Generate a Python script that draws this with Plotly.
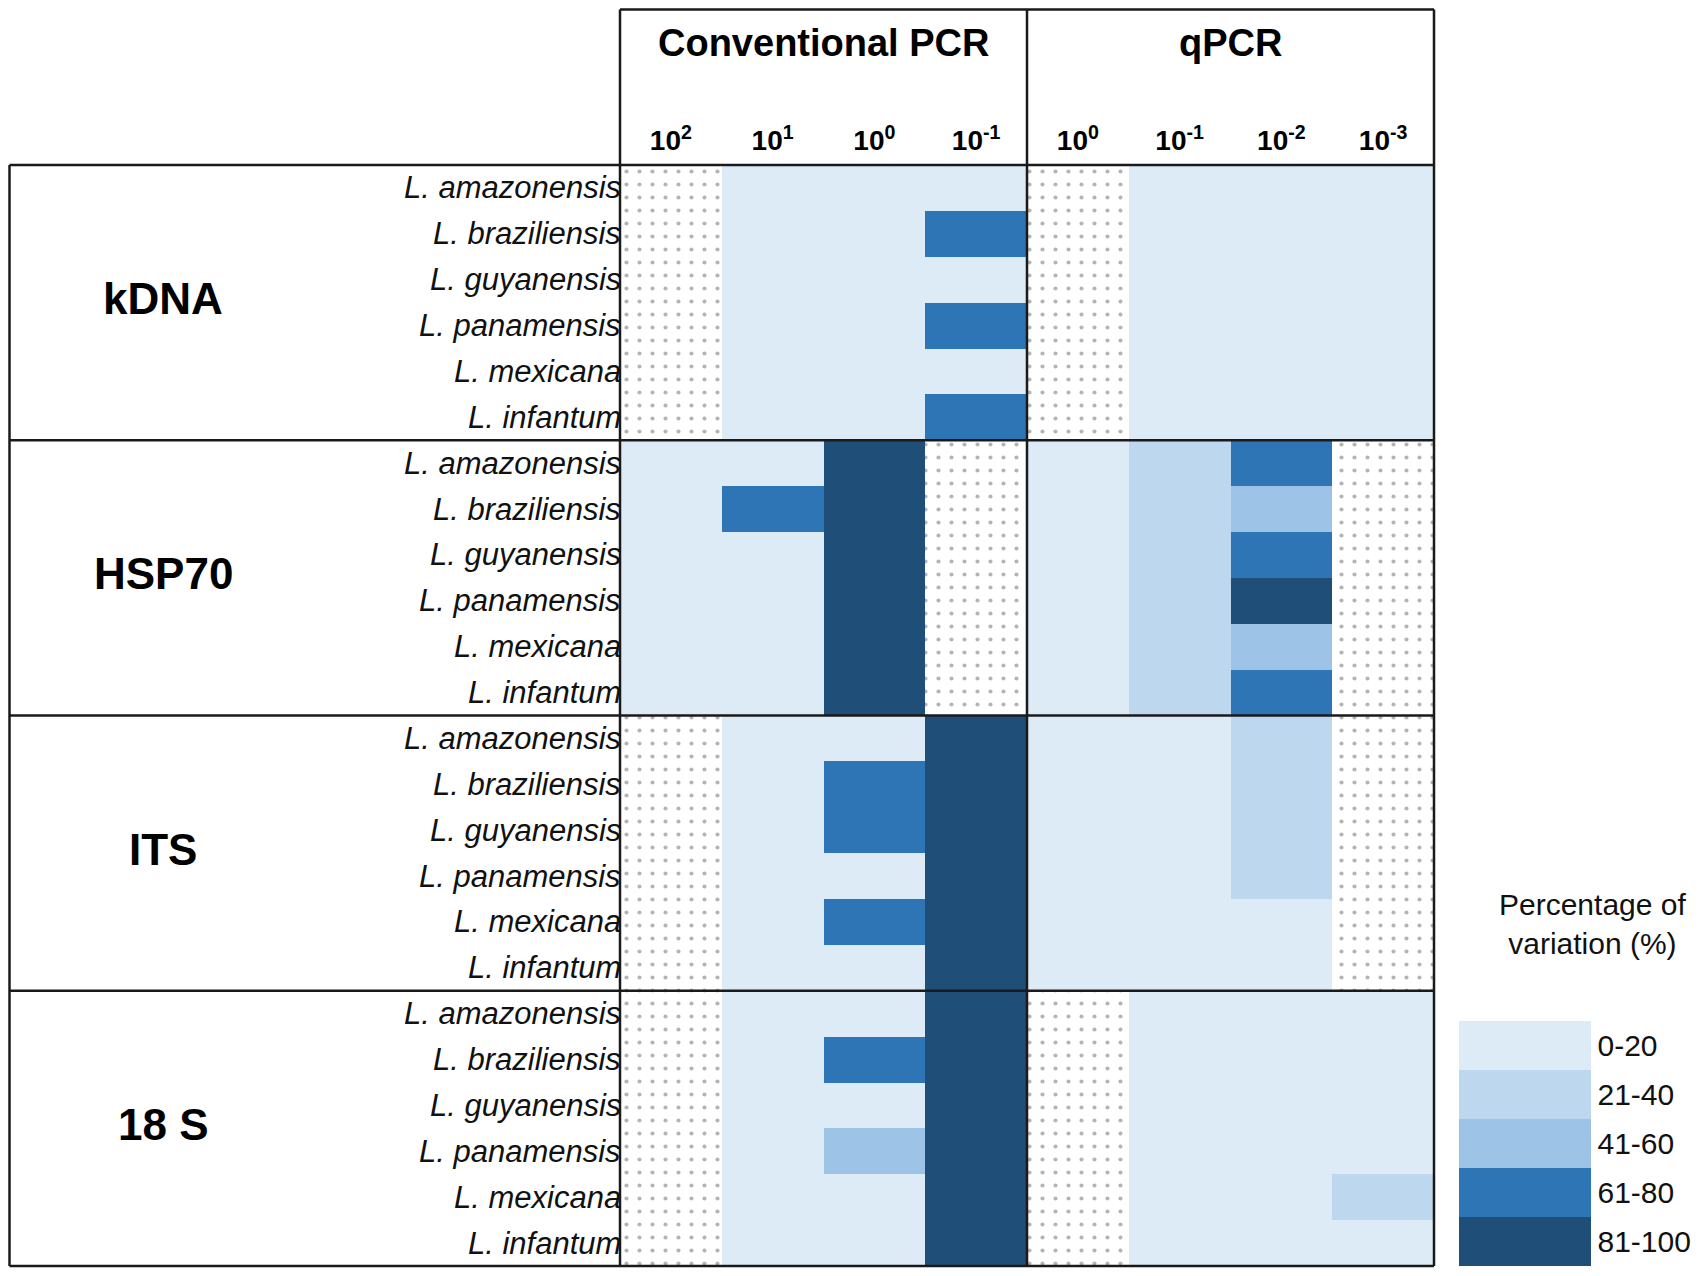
import plotly.graph_objects as go

# ---------------- data ----------------
species = ["L. amazonensis", "L. braziliensis", "L. guyanensis",
           "L. panamensis", "L. mexicana", "L. infantum"]
genes = ["kDNA", "HSP70", "ITS", "18 S"]
methods = ["Conventional PCR", "qPCR"]
conv_dilutions = ["10<sup>2</sup>", "10<sup>1</sup>", "10<sup>0</sup>", "10<sup>-1</sup>"]
qpcr_dilutions = ["10<sup>0</sup>", "10<sup>-1</sup>", "10<sup>-2</sup>", "10<sup>-3</sup>"]
classes = ["0-20", "21-40", "41-60", "61-80", "81-100"]
class_colors = ["#ddebf7", "#bdd7ee", "#9dc3e6", "#2e75b6", "#1f4e79"]

# class codes: 1=0-20 ... 5=81-100, None = not detected (dotted)
N = None
conv_kdna = [[N, 1, 1, 1], [N, 1, 1, 4], [N, 1, 1, 1], [N, 1, 1, 4], [N, 1, 1, 1], [N, 1, 1, 4]]
conv_hsp70 = [[1, 1, 5, N], [1, 4, 5, N], [1, 1, 5, N], [1, 1, 5, N], [1, 1, 5, N], [1, 1, 5, N]]
conv_its = [[N, 1, 1, 5], [N, 1, 4, 5], [N, 1, 4, 5], [N, 1, 1, 5], [N, 1, 4, 5], [N, 1, 1, 5]]
conv_18s = [[N, 1, 1, 5], [N, 1, 4, 5], [N, 1, 1, 5], [N, 1, 3, 5], [N, 1, 1, 5], [N, 1, 1, 5]]

qpcr_kdna = [[N, 1, 1, 1], [N, 1, 1, 1], [N, 1, 1, 1], [N, 1, 1, 1], [N, 1, 1, 1], [N, 1, 1, 1]]
qpcr_hsp70 = [[1, 2, 4, N], [1, 2, 3, N], [1, 2, 4, N], [1, 2, 5, N], [1, 2, 3, N], [1, 2, 4, N]]
qpcr_its = [[1, 1, 2, N], [1, 1, 2, N], [1, 1, 2, N], [1, 1, 2, N], [1, 1, 1, N], [1, 1, 1, N]]
qpcr_18s = [[N, 1, 1, 1], [N, 1, 1, 1], [N, 1, 1, 1], [N, 1, 1, 1], [N, 1, 1, 2], [N, 1, 1, 1]]

conv_all = [conv_kdna, conv_hsp70, conv_its, conv_18s]
qpcr_all = [qpcr_kdna, qpcr_hsp70, qpcr_its, qpcr_18s]

# ---------------- build grid ----------------
FONT = "Liberation Sans, Arial, sans-serif"
n_sp = len(species)
n_rows = len(genes) * n_sp
n_conv = len(conv_dilutions)
n_cols = n_conv + len(qpcr_dilutions)

z = []
nd_x, nd_base = [], []
for gi in range(len(genes)):
    for si in range(n_sp):
        r = gi * n_sp + si
        row_vals = conv_all[gi][si] + qpcr_all[gi][si]
        zr = []
        for ci, v in enumerate(row_vals):
            if v is None:
                zr.append(None)
                nd_x.append(ci)
                nd_base.append(r - 0.5)
            else:
                zr.append(6 - v)  # invert so the legend shows 0-20 on top
        z.append(zr)

n_cls = len(classes)
cs = []
for k in range(n_cls):
    col = class_colors[n_cls - 1 - k]
    cs.append([k / n_cls, col])
    cs.append([(k + 1) / n_cls, col])

W, H = 1692, 1268
L, R, T, B = 612, 1426, 157, 1258
pw, ph = R - L, B - T


def px(xpix):
    return (xpix - L) / pw


def py(ypix):
    return (B - ypix) / ph


def ex(d):  # data x -> paper
    return (d + 0.5) / n_cols


def ey(d):  # data y (reversed axis) -> paper
    return 1 - (d + 0.5) / n_rows


fig = go.Figure()
fig.add_trace(go.Heatmap(
    x=list(range(n_cols)), y=list(range(n_rows)), z=z,
    zmin=0.5, zmax=n_cls + 0.5, colorscale=cs, hoverinfo="skip",
    colorbar=dict(
        x=px(1451), xanchor="left", xpad=0, ypad=0,
        y=0, yanchor="bottom", len=245, lenmode="pixels",
        thickness=132, thicknessmode="pixels", outlinewidth=0,
        tickvals=[n_cls - i for i in range(n_cls)], ticktext=classes,
        ticks="", tickfont=dict(family=FONT, size=30, color="#111"),
    ),
))
fig.add_trace(go.Bar(
    x=nd_x, y=[1] * len(nd_x), base=nd_base, width=[1] * len(nd_x),
    marker=dict(color="white", line=dict(width=0),
                pattern=dict(shape=".", fgcolor="#6a6a6a", bgcolor="white",
                             size=13, solidity=0.08)),
    hoverinfo="skip", showlegend=False,
))

line = dict(color="#1a1a1a", width=2.5)
top = py(1.5)
left = px(1.5)
shapes = []
# header box and vertical borders
shapes.append(dict(type="line", xref="paper", yref="paper", x0=0, x1=1, y0=top, y1=top, line=line))
for xd in [-0.5, n_conv - 0.5, n_cols - 0.5]:
    shapes.append(dict(type="line", xref="paper", yref="paper", x0=ex(xd), x1=ex(xd),
                       y0=0, y1=top, line=line))
# left label box + horizontal separators
shapes.append(dict(type="line", xref="paper", yref="paper", x0=left, x1=left, y0=0, y1=1, line=line))
for gi in range(len(genes) + 1):
    yy = ey(gi * n_sp - 0.5)
    shapes.append(dict(type="line", xref="paper", yref="paper", x0=left, x1=1,
                       y0=yy, y1=yy, line=line))

annotations = []
# method headers
for mi, m in enumerate(methods):
    annotations.append(dict(text="<b>%s</b>" % m, xref="paper", yref="paper",
                            x=ex(mi * n_conv + (n_conv - 1) / 2), y=py(35),
                            xanchor="center", yanchor="middle",
                            showarrow=False, font=dict(family=FONT, size=38, color="#000")))
# gene labels
for gi, g in enumerate(genes):
    annotations.append(dict(text="<b>%s</b>" % g, xref="paper", yref="y",
                            x=px(155), y=gi * n_sp + (n_sp - 1) / 2, yshift=4,
                            xanchor="center", yanchor="middle",
                            showarrow=False, font=dict(family=FONT, size=44, color="#000")))
# species labels
for gi in range(len(genes)):
    for si, s in enumerate(species):
        annotations.append(dict(text="<i>%s</i>" % s, xref="paper", yref="y",
                                x=0, y=gi * n_sp + si, xanchor="right", yanchor="middle",
                                xshift=3, showarrow=False,
                                font=dict(family=FONT, size=31, color="#111")))
# legend title
annotations.append(dict(text="Percentage of<br>variation (%)", xref="paper", yref="paper",
                        x=px(1584), y=py(916), xanchor="center", yanchor="middle",
                        showarrow=False, font=dict(family=FONT, size=30, color="#111")))

fig.update_layout(
    width=W, height=H, autosize=False,
    margin=dict(l=L, r=W - R, t=T, b=H - B, pad=0),
    paper_bgcolor="white", plot_bgcolor="white",
    shapes=shapes, annotations=annotations, showlegend=False, bargap=0,
    xaxis=dict(range=[-0.5, n_cols - 0.5], side="top", tickvals=list(range(n_cols)),
               ticktext=["<b>%s</b>" % t for t in conv_dilutions + qpcr_dilutions],
               tickfont=dict(family=FONT, size=28, color="#000"), ticks="",
               ticklabelstandoff=8,
               showgrid=False, zeroline=False, showline=False, fixedrange=True),
    yaxis=dict(range=[n_rows - 0.5, -0.5], showticklabels=False, ticks="",
               showgrid=False, zeroline=False, showline=False, fixedrange=True),
)

fig.write_html("out.html")
